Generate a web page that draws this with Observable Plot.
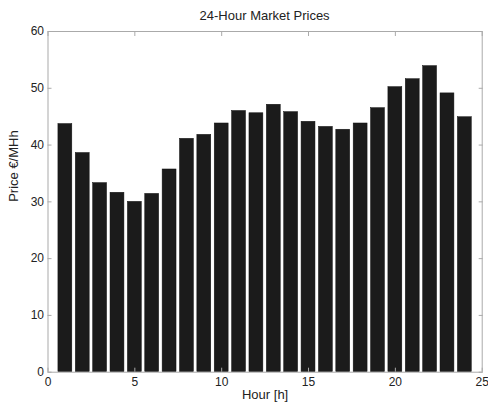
<!DOCTYPE html>
<html>
<head>
<meta charset="utf-8">
<script src="https://cdn.jsdelivr.net/npm/d3@7"></script>
<script src="https://cdn.jsdelivr.net/npm/@observablehq/plot@0.6"></script>
<style>
  html, body { margin: 0; padding: 0; background: #fff; }
  #wrap { width: 488px; height: 408px; overflow: hidden; font-family: "Liberation Sans", Arial, Helvetica, sans-serif; }
  #title { height: 30px; line-height: 31px; font-size: 13px; color: #222; text-align: center; box-sizing: border-box; padding-left: 47.5px; padding-right: 6.3px; }
</style>
</head>
<body>
<div id="wrap">
  <div id="title">24-Hour Market Prices</div>
  <div id="chart"></div>
</div>
<script>
const hours = [1,2,3,4,5,6,7,8,9,10,11,12,13,14,15,16,17,18,19,20,21,22,23,24];
const prices = [43.7,38.6,33.3,31.6,30.0,31.4,35.7,41.1,41.8,43.8,46.0,45.6,47.1,45.8,44.1,43.2,42.7,43.8,46.5,50.2,51.6,53.9,49.1,44.9];
const xTicks = [0,5,10,15,20,25];
const yTicks = [0,10,20,30,40,50,60];
const xLabel = "Hour [h]";
const yLabel = "Price €/MHh";

const data = hours.map((h, i) => ({hour: h, price: prices[i]}));
const axisColor = "#aaa";

const chart = Plot.plot({
  width: 488,
  height: 378,
  marginTop: 1,
  marginBottom: 36.3,
  marginLeft: 47.5,
  marginRight: 6.3,
  style: {fontFamily: "Liberation Sans, Arial, Helvetica, sans-serif", fontSize: "12px", color: "#222", background: "#fff", overflow: "visible"},
  x: {domain: [0, 25]},
  y: {domain: [0, 60]},
  marks: [
    Plot.rectY(data, {x1: d => d.hour - 0.4, x2: d => d.hour + 0.4, y: "price", fill: "#1b1b1b", stroke: "#111", strokeWidth: 0.5}),
    Plot.frame({stroke: axisColor}),
    Plot.axisX(xTicks, {anchor: "bottom", tickSize: -4, tickPadding: 9.5, stroke: axisColor, fill: "#222", fontSize: 12, label: null}),
    Plot.axisX(xTicks, {anchor: "top", tickSize: -4, tickFormat: () => "", stroke: axisColor, label: null}),
    Plot.axisY(yTicks, {anchor: "left", tickSize: -4, tickPadding: 8, stroke: axisColor, fill: "#222", fontSize: 12, label: null}),
    Plot.axisY(yTicks, {anchor: "right", tickSize: -4, tickFormat: () => "", stroke: axisColor, label: null}),
    Plot.text([xLabel], {text: d => d, frameAnchor: "bottom", dy: 27, fill: "#222", fontSize: 13}),
    Plot.text([yLabel], {text: d => d, frameAnchor: "left", rotate: -90, dx: -34.5, fill: "#222", fontSize: 13})
  ]
});
document.getElementById("chart").appendChild(chart);
</script>
</body>
</html>
